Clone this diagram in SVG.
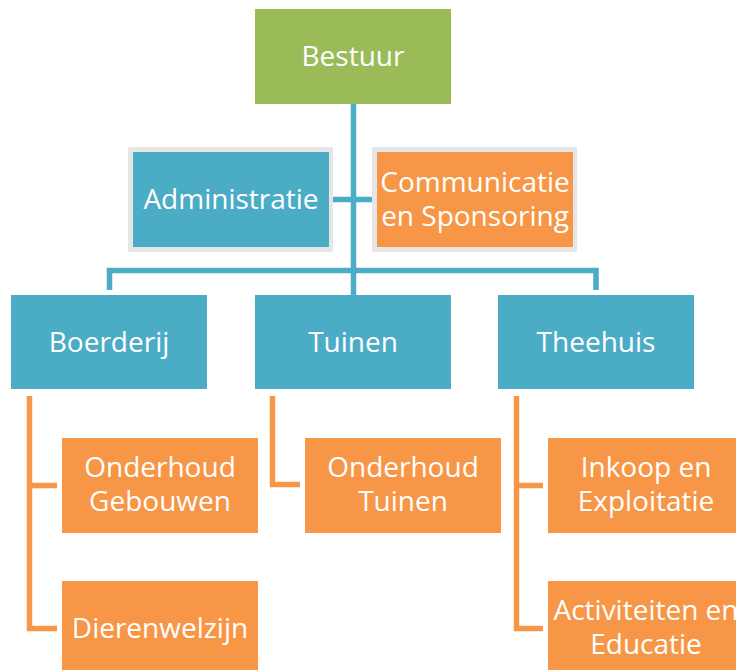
<svg xmlns="http://www.w3.org/2000/svg" width="736" height="670" viewBox="0 0 736 670">
<style>
.t{font-family:"Open Sans","Liberation Sans",sans-serif;font-size:28px;fill:#ffffff;text-anchor:middle}
.green{fill:#9BBB59}
.blue{fill:#4BACC6}
.orange{fill:#F79646}
.frame{fill:#E6E6E6}
.cb{fill:none;stroke:#4BACC6;stroke-width:5.5}
.co{fill:none;stroke:#F79646;stroke-width:5.5}
</style>
<rect width="736" height="670" fill="#ffffff"/>
<g id="connectors">
<path class="cb" d="M353.5,104 V295"/>
<path class="cb" d="M333,199.5 H372"/>
<path class="cb" d="M109.5,290 V270.5 H596 V290"/>
<path class="co" d="M57,485.5 H29.5 M29.5,396 V628.5 H57"/>
<path class="co" d="M272.5,396 V484.5 H300"/>
<path class="co" d="M543,485.5 H516.5 M516.5,396 V628.5 H543"/>
</g>
<g id="bestuur">
<rect class="green" x="255" y="9" width="196" height="95"/>
<text class="t" x="353" y="66">Bestuur</text>
</g>
<g id="administratie">
<rect class="frame" x="128" y="147" width="205" height="105" rx="2"/>
<rect class="blue" x="133" y="152" width="196" height="95"/>
<text class="t" x="231" y="209">Administratie</text>
</g>
<g id="communicatie">
<rect class="frame" x="372" y="147" width="205" height="105" rx="2"/>
<rect class="orange" x="377" y="152" width="196" height="95"/>
<text class="t" x="475" y="192">Communicatie</text>
<text class="t" x="475" y="226">en Sponsoring</text>
</g>
<g id="boerderij">
<rect class="blue" x="11" y="295" width="196" height="94"/>
<text class="t" x="109" y="352">Boerderij</text>
</g>
<g id="tuinen">
<rect class="blue" x="255" y="295" width="196" height="94"/>
<text class="t" x="353" y="352">Tuinen</text>
</g>
<g id="theehuis">
<rect class="blue" x="498" y="295" width="196" height="94"/>
<text class="t" x="596" y="352">Theehuis</text>
</g>
<g id="onderhoud-gebouwen">
<rect class="orange" x="62" y="438" width="196" height="95"/>
<text class="t" x="160" y="477">Onderhoud</text>
<text class="t" x="160" y="511">Gebouwen</text>
</g>
<g id="dierenwelzijn">
<rect class="orange" x="62" y="581" width="196" height="95"/>
<text class="t" x="160" y="638">Dierenwelzijn</text>
</g>
<g id="onderhoud-tuinen">
<rect class="orange" x="305" y="438" width="196" height="95"/>
<text class="t" x="403" y="477">Onderhoud</text>
<text class="t" x="403" y="511">Tuinen</text>
</g>
<g id="inkoop">
<rect class="orange" x="548" y="438" width="196" height="95"/>
<text class="t" x="646" y="477">Inkoop en</text>
<text class="t" x="646" y="511">Exploitatie</text>
</g>
<g id="activiteiten">
<rect class="orange" x="548" y="581" width="196" height="95"/>
<text class="t" x="646" y="620">Activiteiten en</text>
<text class="t" x="646" y="654">Educatie</text>
</g>
</svg>
